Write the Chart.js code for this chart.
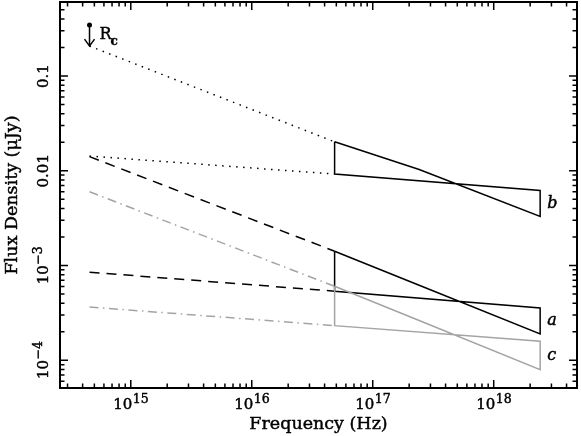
<!DOCTYPE html>
<html>
<head>
<meta charset="utf-8">
<script src="https://cdn.jsdelivr.net/npm/chart.js@4.4.0/dist/chart.umd.min.js"></script>
<style>
  html, body { margin: 0; padding: 0; background: #fff; }
  #wrap { width: 581px; height: 436px; }
</style>
</head>
<body>
<div id="wrap"><canvas id="sed" width="581" height="436"></canvas></div>
<script>
// axis ranges (Hz, uJy)
const xRange = [2.6e14, 4.88e18];
const yRange = [5.1e-5, 0.604];

// frequencies: Rc band, 0.2 keV, 1 keV, 10 keV
const optFreq = 4.56e14;
const xrayFreq = [4.84e16, 2.42e17, 2.42e18];

// Rc upper limit (dot) and arrow tip
const rcLimit = 0.345;
const rcTip = 0.207;

// butterflies: steep edge (0.2 keV, 1 keV, 10 keV), flat edge (0.2 keV, 10 keV)
const bSteep = [0.0202, 0.0103, 0.00329];
const bFlat = [0.00923, 0.0062];
const aSteep = [1.416e-3, 6.2e-4, 1.90e-4];
const aFlat = [5.36e-4, 3.56e-4];
const cSteep = [6.04e-4, 2.63e-4, 7.98e-5];
const cFlat = [2.32e-4, 1.59e-4];

// extrapolations back to Rc: [steep, flat]
const bOpt = [rcTip, 0.0143];
const aOpt = [0.0141, 8.5e-4];
const cOpt = [6.0e-3, 3.65e-4];

// tick labels
const xTickValues = [1e15, 1e16, 1e17, 1e18];
const xTickLabels = [['10', '15'], ['10', '16'], ['10', '17'], ['10', '18']];
const yTickValues = [0.1, 0.01, 1e-3, 1e-4];
const yTickLabels = [['0.1', ''], ['0.01', ''], ['10', '\u22123'], ['10', '\u22124']];

const GRAY = '#a4a4a4';
const FONT = '"DejaVu Serif", serif';

function butterfly(steep, flat) {
  return [
    { x: xrayFreq[0], y: steep[0] },
    { x: xrayFreq[1], y: steep[1] },
    { x: xrayFreq[2], y: steep[2] },
    { x: xrayFreq[2], y: flat[1] },
    { x: xrayFreq[0], y: flat[0] },
    { x: xrayFreq[0], y: steep[0] }
  ];
}

function seg(y0, y1) {
  return [{ x: optFreq, y: y0 }, { x: xrayFreq[0], y: y1 }];
}

function line(data, color, dash) {
  return {
    data: data,
    showLine: true,
    borderColor: color,
    borderWidth: 1.5,
    borderDash: dash || [],
    pointRadius: 0,
    fill: false,
    tension: 0
  };
}

function logTicks(min, max) {
  const out = [];
  for (let d = Math.floor(Math.log10(min)); d <= Math.ceil(Math.log10(max)); d++) {
    for (let m = 1; m <= 9; m++) {
      const v = m * Math.pow(10, d);
      if (v >= min && v <= max) out.push({ v: v, major: m === 1 });
    }
  }
  return out;
}

// text with a thin outline, the original font is a bit heavier
function txt(ctx, s, x, y) {
  ctx.fillText(s, x, y);
  ctx.strokeText(s, x, y);
}

function drawPow(ctx, x, y, parts) {
  ctx.font = '15px ' + FONT;
  const wb = ctx.measureText(parts[0]).width;
  ctx.font = '12.5px ' + FONT;
  const we = parts[1] ? ctx.measureText(parts[1]).width : 0;
  const start = x - (wb + we) / 2;
  ctx.textAlign = 'left';
  ctx.textBaseline = 'alphabetic';
  ctx.font = '15px ' + FONT;
  txt(ctx, parts[0], start, y);
  if (parts[1]) {
    ctx.font = '12.5px ' + FONT;
    txt(ctx, parts[1], start + wb + 0.5, y - 6.5);
  }
}

const decorations = {
  id: 'decorations',
  afterDraw(chart) {
    const ctx = chart.ctx;
    const xs = chart.scales.x;
    const ys = chart.scales.y;
    const a = chart.chartArea;
    ctx.save();
    ctx.fillStyle = '#000';
    ctx.strokeStyle = '#000';

    // ticks on all four sides, pointing in
    ctx.lineWidth = 1.5;
    ctx.beginPath();
    logTicks(xRange[0], xRange[1]).forEach(t => {
      const px = xs.getPixelForValue(t.v);
      const len = t.major ? 8 : 4.5;
      ctx.moveTo(px, a.bottom); ctx.lineTo(px, a.bottom - len);
      ctx.moveTo(px, a.top); ctx.lineTo(px, a.top + len);
    });
    logTicks(yRange[0], yRange[1]).forEach(t => {
      const py = ys.getPixelForValue(t.v);
      const len = t.major ? 8 : 4.5;
      ctx.moveTo(a.left, py); ctx.lineTo(a.left + len, py);
      ctx.moveTo(a.right, py); ctx.lineTo(a.right - len, py);
    });
    ctx.stroke();

    // frame
    ctx.lineWidth = 2;
    ctx.strokeRect(a.left, a.top, a.right - a.left, a.bottom - a.top);

    // Rc upper limit arrow
    const ox = xs.getPixelForValue(optFreq);
    const dotY = ys.getPixelForValue(rcLimit);
    const tipY = ys.getPixelForValue(rcTip);
    ctx.lineWidth = 1.5;
    ctx.beginPath();
    ctx.moveTo(ox, dotY); ctx.lineTo(ox, tipY);
    ctx.moveTo(ox - 5, tipY - 7); ctx.lineTo(ox, tipY); ctx.lineTo(ox + 5, tipY - 7);
    ctx.stroke();
    ctx.beginPath();
    ctx.arc(ox, dotY, 2.5, 0, Math.PI * 2);
    ctx.fill();

    ctx.lineWidth = 0.45;

    // tick labels
    xTickValues.forEach((v, i) => {
      drawPow(ctx, xs.getPixelForValue(v), a.bottom + 21, xTickLabels[i]);
    });
    yTickValues.forEach((v, i) => {
      ctx.save();
      ctx.translate(a.left - 12, ys.getPixelForValue(v));
      ctx.rotate(-Math.PI / 2);
      drawPow(ctx, 0, 0, yTickLabels[i]);
      ctx.restore();
    });

    // axis titles
    ctx.font = '17.5px ' + FONT;
    ctx.textAlign = 'center';
    ctx.textBaseline = 'alphabetic';
    txt(ctx, 'Frequency (Hz)', (a.left + a.right) / 2, a.bottom + 41);
    ctx.save();
    ctx.translate(17, (a.top + a.bottom) / 2);
    ctx.rotate(-Math.PI / 2);
    txt(ctx, 'Flux Density (\u03bcJy)', 0, 0);
    ctx.restore();

    // Rc label
    ctx.textAlign = 'left';
    ctx.font = '16px ' + FONT;
    txt(ctx, 'R', ox + 10, tipY - 7);
    ctx.font = 'bold 12px ' + FONT;
    txt(ctx, 'c', ox + 21, tipY - 1);

    // butterfly labels
    const rx = xs.getPixelForValue(xrayFreq[2]) + 7;
    ctx.font = 'italic 16px ' + FONT;
    ctx.textBaseline = 'middle';
    [['b', bSteep, bFlat], ['a', aSteep, aFlat], ['c', cSteep, cFlat]].forEach(l => {
      const my = (ys.getPixelForValue(l[1][2]) + ys.getPixelForValue(l[2][1])) / 2;
      txt(ctx, l[0], rx, my);
    });
    ctx.restore();
  }
};

new Chart(document.getElementById('sed'), {
  type: 'scatter',
  data: {
    datasets: [
      line(butterfly(cSteep, cFlat), GRAY),
      line(seg(cOpt[0], cSteep[0]), GRAY, [9, 4.5, 1.5, 4.5]),
      line(seg(cOpt[1], cFlat[0]), GRAY, [9, 4.5, 1.5, 4.5]),
      line(butterfly(aSteep, aFlat), '#000'),
      line(seg(aOpt[0], aSteep[0]), '#000', [10, 7]),
      line(seg(aOpt[1], aFlat[0]), '#000', [10, 7]),
      line(butterfly(bSteep, bFlat), '#000'),
      line(seg(bOpt[0], bSteep[0]), '#000', [1.5, 5.5]),
      line(seg(bOpt[1], bFlat[0]), '#000', [1.5, 5.5])
    ]
  },
  options: {
    responsive: false,
    devicePixelRatio: 1,
    animation: false,
    layout: { padding: { left: 60, right: 4, top: 2, bottom: 48 } },
    plugins: { legend: { display: false }, tooltip: { enabled: false } },
    scales: {
      x: { type: 'logarithmic', min: xRange[0], max: xRange[1], display: false },
      y: { type: 'logarithmic', min: yRange[0], max: yRange[1], display: false }
    }
  },
  plugins: [decorations]
});
</script>
</body>
</html>
